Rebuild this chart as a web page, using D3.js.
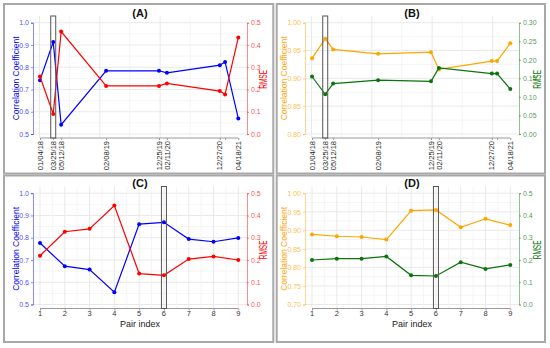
<!DOCTYPE html>
<html>
<head>
<meta charset="utf-8">
<script src="https://cdn.jsdelivr.net/npm/d3@7"></script>
<style>
  body { margin: 0; background: #fff; }
  svg { display: block; font-family: "Liberation Sans", Arial, sans-serif; }
</style>
</head>
<body>
<div id="chart"></div>
<script>
"use strict";

// == DATA ==
var dates = ["01/04/18", "03/25/18", "05/12/18", "02/08/19", "12/25/19", "02/11/20", "12/27/20", "01/28/21", "04/18/21"];
var pairIndex = [1, 2, 3, 4, 5, 6, 7, 8, 9];

var corrA = [0.742, 0.913, 0.542, 0.784, 0.784, 0.775, 0.809, 0.824, 0.570];
var rmseA = [0.258, 0.090, 0.460, 0.216, 0.216, 0.227, 0.193, 0.178, 0.433];

var corrB = [0.936, 0.971, 0.952, 0.944, 0.947, 0.916, 0.931, 0.931, 0.963];
var rmseB = [0.155, 0.107, 0.136, 0.145, 0.142, 0.178, 0.163, 0.163, 0.121];

var corrC = [0.776, 0.672, 0.657, 0.555, 0.861, 0.869, 0.794, 0.782, 0.799];
var rmseC = [0.219, 0.327, 0.340, 0.445, 0.139, 0.131, 0.204, 0.216, 0.200];

var corrD = [0.889, 0.884, 0.882, 0.875, 0.953, 0.955, 0.908, 0.931, 0.914];
var rmseD = [0.200, 0.206, 0.206, 0.216, 0.131, 0.128, 0.190, 0.160, 0.178];

var corrTicksWide = [0.5, 0.6, 0.7, 0.8, 0.9, 1.0];
var corrTicksB = [0.80, 0.85, 0.90, 0.95, 1.00];
var corrTicksD = [0.70, 0.75, 0.80, 0.85, 0.90, 0.95, 1.00];
var rmseTicksWide = [0.0, 0.1, 0.2, 0.3, 0.4, 0.5];
var rmseTicksB = [0.00, 0.05, 0.10, 0.15, 0.20, 0.25, 0.30];

var highlightA = 1;   // index of boxed point (03/25/18)
var highlightC = 5;   // pair index 6

var parseDate = d3.timeParse("%m/%d/%y");

var panels = [
  { title: "(A)", ox: 0, oy: 0, time: true, corr: corrA, rmse: rmseA, cTicks: corrTicksWide, rTicks: rmseTicksWide,
    cFmt: ".1f", rFmt: ".1f", c1: "blue", c2: "red", hl: highlightA, titleX: 15.5, rTitleX: 263.5 },
  { title: "(B)", ox: 272, oy: 0, time: true, corr: corrB, rmse: rmseB, cTicks: corrTicksB, rTicks: rmseTicksB,
    cFmt: ".2f", rFmt: ".2f", c1: "orange", c2: "#0b730b", hl: highlightA, titleX: 12, rTitleX: 265.5 },
  { title: "(C)", ox: 0, oy: 170.5, time: false, corr: corrC, rmse: rmseC, cTicks: corrTicksWide, rTicks: rmseTicksWide,
    cFmt: ".1f", rFmt: ".1f", c1: "blue", c2: "red", hl: highlightC, titleX: 15.5, rTitleX: 263.5 },
  { title: "(D)", ox: 272, oy: 170.5, time: false, corr: corrD, rmse: rmseD, cTicks: corrTicksD, rTicks: rmseTicksWide,
    cFmt: ".2f", rFmt: ".1f", c1: "orange", c2: "#0b730b", hl: highlightC, titleX: 12, rTitleX: 265 }
];

// == BOILERPLATE ==
var W = 550, H = 348;
var svg = d3.select("#chart").append("svg").attr("width", W).attr("height", H);

// panel borders
var borders = [[4, 4, 269.3, 169.5], [276.7, 4, 268.3, 169.5], [4, 175.5, 269.3, 166.5], [276.7, 175.5, 268.3, 166.5]];
svg.selectAll("rect.border").data(borders).enter().append("rect")
   .attr("class", "border")
   .attr("x", function(d) { return d[0]; })
   .attr("y", function(d) { return d[1]; })
   .attr("width", function(d) { return d[2]; })
   .attr("height", function(d) { return d[3]; })
   .attr("fill", "none").attr("stroke", "#a8a8a8").attr("stroke-width", 2);

// plot geometry (inside each panel group)
var px0 = 40, px1 = 238.3, py0 = 22.7, py1 = 134;
var gx0 = 33, gx1 = 247, gy0 = 16, gy1 = 138;

panels.forEach(function(p) {
  var g = svg.append("g").attr("transform", "translate(" + p.ox + "," + p.oy + ")");

  var xs = p.time ? dates.map(parseDate) : pairIndex;
  var x = p.time
    ? d3.scaleTime().domain(d3.extent(xs)).range([px0, px1])
    : d3.scaleLinear().domain([1, 9]).range([px0, px1]);
  var yC = d3.scaleLinear().domain(d3.extent(p.cTicks)).range([py1, py0]);
  var yR = d3.scaleLinear().domain(d3.extent(p.rTicks)).range([py1, py0]);

  // grid
  var step = p.cTicks[1] - p.cTicks[0];
  var minorY = p.cTicks.slice(1).map(function(t) { return t - step / 2; });
  g.selectAll("line.hmin").data(minorY).enter().append("line")
   .attr("x1", gx0).attr("x2", gx1)
   .attr("y1", function(d) { return yC(d); }).attr("y2", function(d) { return yC(d); })
   .attr("stroke", "#f3f3f3").attr("stroke-width", 0.8);
  g.selectAll("line.hmaj").data(p.cTicks).enter().append("line")
   .attr("x1", gx0).attr("x2", gx1)
   .attr("y1", function(d) { return yC(d); }).attr("y2", function(d) { return yC(d); })
   .attr("stroke", "#e6e6e6").attr("stroke-width", 0.9);

  var vMaj, vMin;
  if (p.time) {
    var d0 = x.invert(gx0), d1 = x.invert(gx1);
    vMaj = d3.timeYear.range(d0, d1);
    vMin = d3.timeMonth.range(d0, d1).filter(function(d) { return d.getMonth() === 6; });
  } else {
    vMaj = pairIndex;
    vMin = pairIndex.slice(1).map(function(d) { return d - 0.5; });
  }
  g.selectAll("line.vmin").data(vMin).enter().append("line")
   .attr("y1", gy0).attr("y2", gy1)
   .attr("x1", function(d) { return x(d); }).attr("x2", function(d) { return x(d); })
   .attr("stroke", "#f3f3f3").attr("stroke-width", 0.8);
  g.selectAll("line.vmaj").data(vMaj).enter().append("line")
   .attr("y1", gy0).attr("y2", gy1)
   .attr("x1", function(d) { return x(d); }).attr("x2", function(d) { return x(d); })
   .attr("stroke", "#e6e6e6").attr("stroke-width", 0.9);

  // left axis (correlation)
  var axL = g.append("g").attr("transform", "translate(" + gx0 + ",0)")
    .call(d3.axisLeft(yC).tickValues(p.cTicks).tickFormat(d3.format(p.cFmt)).tickSize(2).tickPadding(2));
  axL.select(".domain").attr("stroke", p.c1).attr("stroke-opacity", 0.45);
  axL.selectAll(".tick line").attr("stroke", p.c1).attr("stroke-opacity", 0.45);
  axL.selectAll("text").attr("fill", p.c1).attr("fill-opacity", 0.75).style("font-size", "7px");

  // right axis (RMSE)
  var axR = g.append("g").attr("transform", "translate(" + gx1 + ",0)")
    .call(d3.axisRight(yR).tickValues(p.rTicks).tickFormat(d3.format(p.rFmt)).tickSize(2).tickPadding(2));
  axR.select(".domain").attr("stroke", p.c2).attr("stroke-opacity", 0.45);
  axR.selectAll(".tick line").attr("stroke", p.c2).attr("stroke-opacity", 0.45);
  axR.selectAll("text").attr("fill", p.c2).attr("fill-opacity", 0.75).style("font-size", "7px");

  // bottom axis
  var axB = g.append("g").attr("transform", "translate(0," + gy1 + ")")
    .call(d3.axisBottom(x).tickValues(xs).tickSize(2).tickFormat(""));
  axB.select(".domain").attr("stroke", "#999").attr("d", "M" + px0 + ",0H" + px1);
  axB.selectAll(".tick line").attr("stroke", "#999");

  if (p.time) {
    // drop labels that would overlap the previous one
    var lastX = -100;
    dates.forEach(function(lab, i) {
      var tx = x(xs[i]);
      if (tx - lastX < 6.5) return;
      lastX = tx;
      g.append("text")
       .attr("transform", "translate(" + tx + "," + (gy1 + 3) + ") rotate(-90)")
       .attr("text-anchor", "end").attr("dy", "0.35em")
       .style("font-size", "7.5px").attr("fill", "#222")
       .text(lab);
    });
  } else {
    g.selectAll("text.pi").data(pairIndex).enter().append("text")
     .attr("x", function(d) { return x(d); }).attr("y", gy1 + 7.5)
     .attr("text-anchor", "middle")
     .style("font-size", "7.5px").attr("fill", "#333")
     .text(function(d) { return d; });
    g.append("text")
     .attr("x", (gx0 + gx1) / 2).attr("y", gy1 + 18)
     .attr("text-anchor", "middle")
     .style("font-size", "9px").attr("fill", "#222")
     .text("Pair index");
  }

  // axis titles
  g.append("text")
   .attr("transform", "translate(" + p.titleX + "," + ((py0 + py1) / 2) + ") rotate(-90)")
   .attr("text-anchor", "middle").attr("dy", "0.35em")
   .attr("textLength", 84).attr("lengthAdjust", "spacingAndGlyphs")
   .style("font-size", "9.5px").attr("fill", p.c1)
   .text("Correlation Coefficient");
  g.append("text")
   .attr("transform", "translate(" + p.rTitleX + "," + ((py0 + py1) / 2 + 1) + ") rotate(-90)")
   .attr("text-anchor", "middle").attr("dy", "0.35em")
   .attr("textLength", 19).attr("lengthAdjust", "spacingAndGlyphs")
   .style("font-size", "10px").attr("fill", p.c2)
   .text("RMSE");

  // title
  g.append("text")
   .attr("x", (gx0 + gx1) / 2).attr("y", 16.5)
   .attr("text-anchor", "middle")
   .style("font-size", "11px").style("font-weight", "bold").attr("fill", "#111")
   .text(p.title);

  // series
  var lineC = d3.line().x(function(d, i) { return x(xs[i]); }).y(function(d) { return yC(d); });
  var lineR = d3.line().x(function(d, i) { return x(xs[i]); }).y(function(d) { return yR(d); });

  g.append("path").datum(p.corr).attr("d", lineC)
   .attr("fill", "none").attr("stroke", p.c1).attr("stroke-width", 1.2);
  g.selectAll("circle.c").data(p.corr).enter().append("circle")
   .attr("cx", function(d, i) { return x(xs[i]); }).attr("cy", function(d) { return yC(d); })
   .attr("r", 2).attr("fill", p.c1);

  g.append("path").datum(p.rmse).attr("d", lineR)
   .attr("fill", "none").attr("stroke", p.c2).attr("stroke-width", 1.2);
  g.selectAll("circle.r").data(p.rmse).enter().append("circle")
   .attr("cx", function(d, i) { return x(xs[i]); }).attr("cy", function(d) { return yR(d); })
   .attr("r", 2).attr("fill", p.c2);

  // highlight box
  var hx = x(xs[p.hl]);
  g.append("rect")
   .attr("x", hx - 2.5).attr("y", gy0).attr("width", 5).attr("height", gy1 - gy0)
   .attr("fill", "none").attr("stroke", "#555").attr("stroke-width", 1);
});
</script>
</body>
</html>
